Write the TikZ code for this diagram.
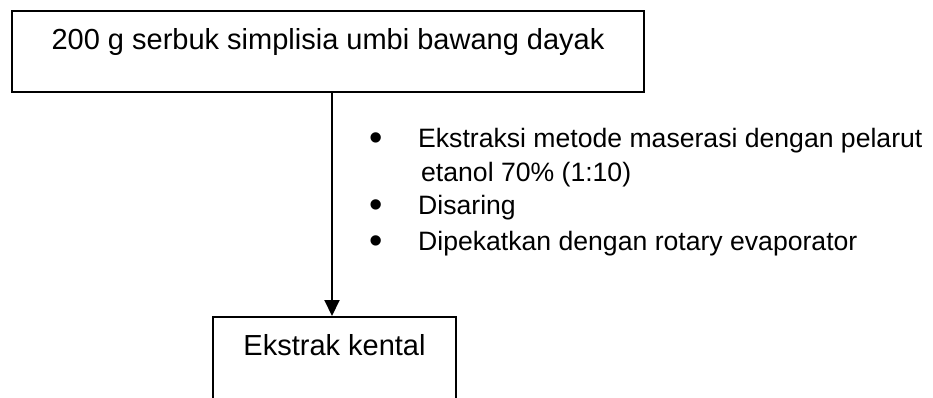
\documentclass[tikz,border=0pt]{standalone}
\usepackage{fontspec}
\setmainfont{Liberation Sans}
\usetikzlibrary{arrows.meta}
\begin{document}
\begin{tikzpicture}[x=1pt,y=-1pt,
  boxtxt/.style={draw=black, line width=2pt, font=\fontsize{29}{34}\selectfont,
    inner xsep=0pt, inner ysep=0pt, align=center},
  bulletmark/.style={anchor=center, inner sep=0pt, font=\fontsize{38}{40}\selectfont},
  bullettxt/.style={anchor=base west, inner sep=0pt, font=\fontsize{26.6}{32}\selectfont},
  conn/.style={line width=2pt, -{Triangle[width=15pt,length=16pt]}}]
\useasboundingbox (0,0) rectangle (933,397);
\node[boxtxt, minimum width=632pt, text height=38pt, text depth=43pt, anchor=north]
  (top) at (328,10) {200 g serbuk simplisia umbi bawang dayak};
\node[boxtxt, minimum width=243pt, text height=38pt, text depth=50pt, anchor=north]
  (bot) at (334.5,316) {Ekstrak kental};
\coordinate (ax) at (332,200);
\draw[conn] (top.south -| ax) -- (bot.north -| ax);
\node[bulletmark] (m1) at (376,142) {•};
\node[bulletmark] (m2) at (376,209) {•};
\node[bulletmark] (m3) at (376,245) {•};
\node[bullettxt] (t1) at (418,147) {Ekstraksi metode maserasi dengan pelarut};
\node[bullettxt] (t2) at (421,181) {etanol 70\% (1:10)};
\node[bullettxt] (t3) at (418,214) {Disaring};
\node[bullettxt] (t4) at (418,250) {Dipekatkan dengan rotary evaporator};
\end{tikzpicture}
\end{document}
